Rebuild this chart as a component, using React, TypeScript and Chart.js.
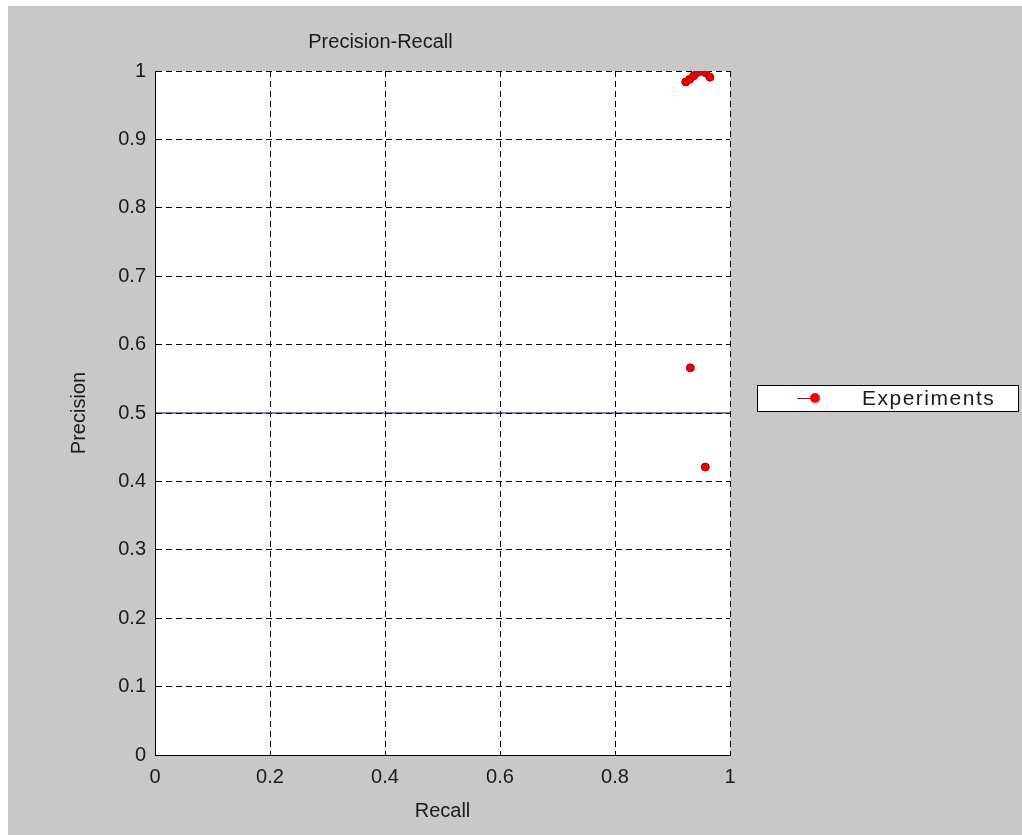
import React, { useEffect, useRef } from "react";
import { Chart, registerables } from "chart.js";

Chart.register(...registerables);

const chartTitle = "Precision-Recall";
const xAxisTitle = "Recall";
const yAxisTitle = "Precision";
const seriesLabel = "Experiments";

const recallValues = [0.923, 0.93, 0.937, 0.944, 0.951, 0.958, 0.965, 0.931, 0.957];
const precisionValues = [0.984, 0.988, 0.993, 0.998, 1.0, 0.997, 0.991, 0.566, 0.421];

const baselineRecall = [0, 1];
const baselinePrecision = [0.5, 0.5];

const xTickStep = 0.2;
const yTickStep = 0.1;

const FONT = "'Liberation Sans', Arial, sans-serif";
const TEXT = "#1a1a1a";

export default function App() {
  const canvasRef = useRef<HTMLCanvasElement | null>(null);

  useEffect(() => {
    document.body.style.margin = "6px 0 0 8px";
    const canvas = canvasRef.current;
    if (!canvas) return;

    const decorPlugin = {
      id: "decor",
      beforeDraw(chart: any) {
        const { ctx, chartArea } = chart;
        ctx.save();
        ctx.fillStyle = "#c8c8c8";
        ctx.fillRect(0, 0, chart.width, chart.height);
        ctx.fillStyle = "#ffffff";
        ctx.fillRect(chartArea.left, chartArea.top, chartArea.right - chartArea.left, chartArea.bottom - chartArea.top);
        ctx.restore();
      },
      afterDraw(chart: any) {
        const { ctx, chartArea } = chart;
        ctx.save();
        // title
        ctx.fillStyle = TEXT;
        ctx.font = `20px ${FONT}`;
        ctx.textAlign = "center";
        ctx.textBaseline = "middle";
        ctx.fillText(chartTitle, (chartArea.left + chartArea.right) / 2 - 62, 36);
        // legend
        const bx = 749, by = 379, bw = 261, bh = 26;
        ctx.fillStyle = "#ffffff";
        ctx.fillRect(bx, by, bw, bh);
        ctx.strokeStyle = "#000";
        ctx.lineWidth = 1;
        ctx.strokeRect(bx + 0.5, by + 0.5, bw, bh);
        const cy = by + bh / 2;
        ctx.strokeStyle = "#8b1a1a";
        ctx.beginPath();
        ctx.moveTo(789, cy + 0.5);
        ctx.lineTo(812, cy + 0.5);
        ctx.stroke();
        ctx.fillStyle = "#ff0000";
        ctx.beginPath();
        ctx.arc(807, cy, 5, 0, Math.PI * 2);
        ctx.fill();
        ctx.fillStyle = TEXT;
        ctx.font = `21px ${FONT}`;
        (ctx as any).letterSpacing = "1.5px";
        ctx.textAlign = "left";
        ctx.textBaseline = "middle";
        ctx.fillText(seriesLabel, 854, cy + 1);
        ctx.restore();
      },
    };

    const chart = new Chart(canvas, {
      type: "scatter",
      data: {
        datasets: [
          {
            label: seriesLabel,
            data: recallValues.map((x, i) => ({ x, y: precisionValues[i] })),
            pointRadius: 4,
            pointBackgroundColor: "#ee0000",
            pointBorderColor: "#b00000",
            pointBorderWidth: 1,
            order: 0,
          },
          {
            type: "line",
            label: "baseline",
            data: baselineRecall.map((x, i) => ({ x, y: baselinePrecision[i] })),
            borderColor: "#00007f",
            borderWidth: 1,
            pointRadius: 0,
            showLine: true,
            fill: false,
            order: 1,
          } as any,
        ],
      },
      options: {
        animation: false,
        responsive: false,
        devicePixelRatio: 1,
        layout: { padding: { top: 65, right: 292, left: 0, bottom: 0 } },
        plugins: {
          legend: { display: false },
          title: { display: false },
          tooltip: { enabled: false },
        },
        scales: {
          x: {
            type: "linear",
            min: 0,
            max: 1,
            afterFit(scale: any) {
              scale.height = 80;
            },
            ticks: {
              stepSize: xTickStep,
              padding: 10,
              color: TEXT,
              font: { family: FONT, size: 20 },
              callback: (v: any) => String(Number(Number(v).toFixed(1))),
            },
            grid: { color: "#000", lineWidth: 1, drawTicks: false },
            border: { display: true, color: "#000", width: 1, dash: [6, 4] },
            title: {
              display: true,
              text: xAxisTitle,
              color: TEXT,
              font: { family: FONT, size: 20 },
              padding: { top: 0, bottom: 12 },
            },
          },
          y: {
            type: "linear",
            min: 0,
            max: 1,
            afterFit(scale: any) {
              scale.width = 147;
            },
            ticks: {
              stepSize: yTickStep,
              padding: 9,
              color: TEXT,
              font: { family: FONT, size: 20 },
              callback: (v: any) => String(Number(Number(v).toFixed(1))),
            },
            grid: { color: "#000", lineWidth: 1, drawTicks: false },
            border: { display: true, color: "#000", width: 1, dash: [6, 4] },
            title: {
              display: true,
              text: yAxisTitle,
              color: TEXT,
              font: { family: FONT, size: 20 },
              padding: { top: 59, bottom: 0 },
            },
          },
        },
      },
      plugins: [decorPlugin],
    } as any);

    return () => chart.destroy();
  }, []);

  return (
    <div style={{ width: 1014, height: 829, background: "#c8c8c8" }}>
      <canvas ref={canvasRef} width={1014} height={829} style={{ display: "block" }} />
    </div>
  );
}
